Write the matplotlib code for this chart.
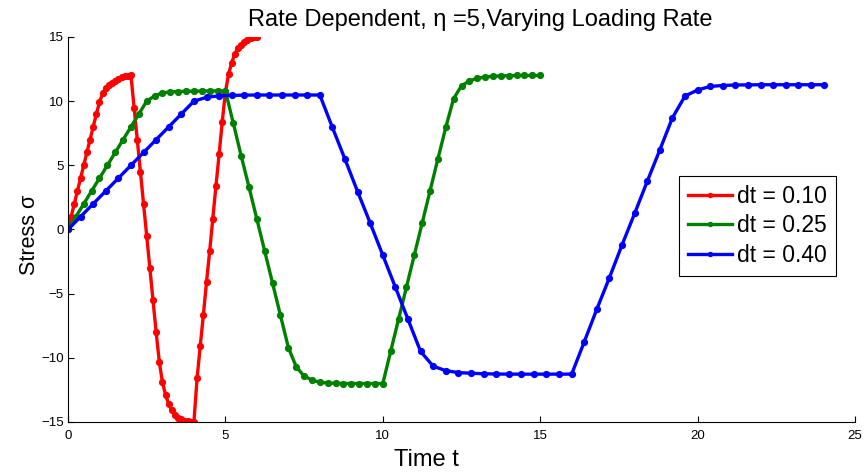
import numpy as np
import matplotlib
matplotlib.use("Agg")
import matplotlib.pyplot as plt

plt.rcParams['font.family'] = ['Liberation Sans', 'DejaVu Sans']
plt.rcParams['axes.unicode_minus'] = True

# time steps of the three runs
dt_values = [0.10, 0.25, 0.40]
labels = ["dt = 0.10", "dt = 0.25", "dt = 0.40"]
colors = ["#ff0000", "#008000", "#0000ff"]

# stress histories (one value per time step)
stress_010 = [
    0.0, 1.0, 2.0, 3.0, 4.0, 5.0, 6.0, 7.0, 8.0, 9.0, 9.9,
    10.6, 11.0, 11.26, 11.44, 11.6, 11.75, 11.86, 11.94, 11.98, 12.0,
    9.5, 7.0, 4.5, 2.0, -0.5, -3.0, -5.5, -8.0, -10.3, -11.9,
    -12.9, -13.6, -14.1, -14.45, -14.65, -14.8, -14.9, -14.95, -14.98, -15.0,
    -11.6, -9.1, -6.65, -4.1, -1.7, 0.85, 3.4, 5.85, 8.4, 10.7,
    12.1, 13.0, 13.7, 14.12, 14.4, 14.6, 14.77, 14.9, 14.97, 15.0,
]
stress_025 = [
    0.0, 1.0, 2.0, 3.0, 4.0, 5.0, 6.0, 7.0, 8.0, 9.0, 10.0,
    10.4, 10.65, 10.72, 10.75, 10.77, 10.78, 10.79, 10.8, 10.8, 10.8,
    8.3, 5.75, 3.3, 0.8, -1.7, -4.2, -6.7, -9.2, -10.7, -11.42,
    -11.73, -11.9, -11.96, -11.98, -12.0, -12.0, -12.0, -12.0, -12.0, -12.0,
    -9.5, -7.0, -4.5, -2.0, 0.5, 3.0, 5.5, 7.95, 10.2, 11.2,
    11.57, 11.78, 11.88, 11.94, 11.97, 11.99, 12.0, 12.0, 12.0, 12.0,
]
stress_040 = [
    0.0, 1.0, 2.0, 3.0, 4.0, 5.0, 6.0, 7.0, 8.0, 9.0, 10.0,
    10.3, 10.42, 10.45, 10.47, 10.48, 10.48, 10.48, 10.48, 10.48, 10.48,
    7.95, 5.47, 2.95, 0.5, -2.0, -4.5, -7.0, -9.5, -10.65, -11.0,
    -11.15, -11.2, -11.24, -11.26, -11.27, -11.27, -11.27, -11.27, -11.27, -11.27,
    -8.75, -6.2, -3.75, -1.2, 1.25, 3.75, 6.2, 8.7, 10.4, 10.87,
    11.15, 11.22, 11.26, 11.27, 11.28, 11.28, 11.28, 11.28, 11.28, 11.28,
]
series = [stress_010, stress_025, stress_040]

x_ticks = [0, 5, 10, 15, 20, 25]
y_ticks = [-15, -10, -5, 0, 5, 10, 15]

fig = plt.figure(figsize=(8.66, 4.72), dpi=100)
ax = fig.add_axes([68 / 866, 50 / 472, 787 / 866, 385 / 472])

for dt, s, c, lab in zip(dt_values, series, colors, labels):
    t = dt * np.arange(len(s))
    ax.plot(t, s, color=c, lw=2.4, marker='o', markersize=5.2,
            markeredgewidth=0, label=lab)

ax.set_xlim(0, 25)
ax.set_ylim(-15, 15)
ax.set_xticks(x_ticks)
ax.set_yticks(y_ticks)
ax.tick_params(direction='in', length=4, width=0.8, labelsize=9.5)
ax.tick_params(axis='x', pad=6)
ax.tick_params(axis='y', pad=3)

for side in ('top', 'right'):
    ax.spines[side].set_visible(False)
for side in ('left', 'bottom'):
    ax.spines[side].set_linewidth(0.8)
    ax.spines[side].set_color('black')

ax.set_title("Rate Dependent, η =5,Varying Loading Rate", fontsize=17,
             x=0.5235, y=1.0, pad=8)
ax.set_xlabel("Time t", fontsize=17)
ax.xaxis.set_label_coords(0.456, -0.07)
ax.set_ylabel("Stress σ", fontsize=15.5)
ax.yaxis.set_label_coords(-0.035, 0.486)

leg = ax.legend(loc='upper left', bbox_to_anchor=(0.776, 0.639),
                borderaxespad=0, fontsize=16.5, fancybox=False,
                edgecolor='black', framealpha=1, handlelength=1.92,
                handletextpad=0.22, labelspacing=0.27, borderpad=0.4,
                markerscale=0.75)
leg.get_frame().set_linewidth(0.8)

fig.savefig("out.png", dpi=100)
